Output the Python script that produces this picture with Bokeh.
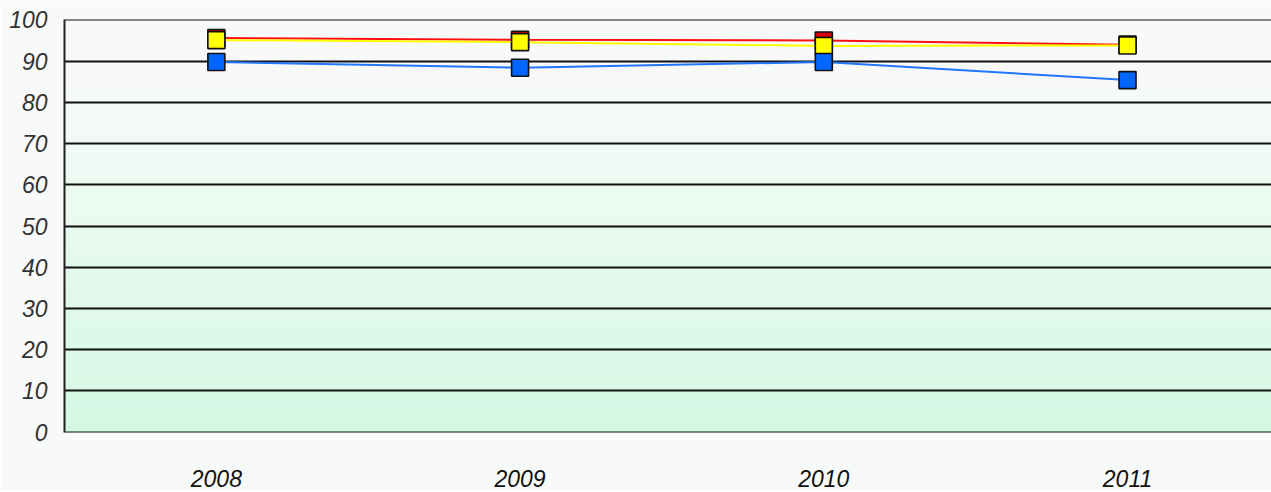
from bokeh.plotting import figure
from bokeh.models import FixedTicker, Range1d
from bokeh.embed import file_html
from bokeh.resources import INLINE

years = [2008, 2009, 2010, 2011]
year_labels = ["2008", "2009", "2010", "2011"]
red_vals = [95.6, 95.2, 95.0, 94.0]
yellow_vals = [95.1, 94.6, 93.7, 93.8]
blue_vals = [89.8, 88.4, 89.8, 85.4]
y_ticks = list(range(0, 101, 10))

BG = "#f8faf9"
p = figure(width=1271, height=490, output_backend="svg", toolbar_location=None,
           x_range=Range1d(2007.5, 2011.474), y_range=Range1d(-0.1, 100.1),
           min_border_left=64, min_border_right=0, min_border_top=19,
           min_border_bottom=58)
p.background_fill_color = BG
p.border_fill_color = BG
p.outline_line_color = None

# gradient background (style only)
top_rgb = (248, 250, 249)
bot_rgb = (210, 249, 226)
g_top = 86.0
n = 86
bottoms, tops, cols = [], [], []
for i in range(n):
    b = g_top * i / n
    t = g_top * (i + 1) / n
    f = (b + t) / 2 / g_top
    c = tuple(int(round(bot_rgb[k] + (top_rgb[k] - bot_rgb[k]) * f)) for k in range(3))
    bottoms.append(b)
    tops.append(t)
    cols.append("#%02x%02x%02x" % c)
bg = p.quad(left=2007.0, right=2012.0, bottom=bottoms, top=tops,
            fill_color=cols, line_color=None)
bg.level = "image"

# grid
p.xgrid.visible = False
p.ygrid.ticker = FixedTicker(ticks=y_ticks)
p.ygrid.grid_line_color = "#111111"
p.ygrid.grid_line_width = 2

# axes
p.yaxis.ticker = FixedTicker(ticks=y_ticks)
p.yaxis.axis_line_color = "#222222"
p.yaxis.axis_line_width = 2
p.yaxis.major_tick_line_color = None
p.yaxis.minor_tick_line_color = None
p.yaxis.major_label_text_font = "Liberation Sans"
p.yaxis.major_label_text_font_style = "italic"
p.yaxis.major_label_text_font_size = "23px"
p.yaxis.major_label_text_color = "#333333"
p.yaxis.major_label_standoff = 11

p.xaxis.ticker = FixedTicker(ticks=years)
p.xaxis.major_label_overrides = {y: s for y, s in zip(years, year_labels)}
p.xaxis.axis_line_color = None
p.xaxis.major_tick_line_color = None
p.xaxis.minor_tick_line_color = None
p.xaxis.major_label_text_font = "Liberation Sans"
p.xaxis.major_label_text_font_style = "italic"
p.xaxis.major_label_text_font_size = "23px"
p.xaxis.major_label_text_color = "#111111"
p.xaxis.major_label_standoff = 31

# series
def series(vals, color, mfill):
    p.line(years, vals, line_color=color, line_width=2)
    p.scatter(years, vals, marker="square", size=17, fill_color=mfill,
              line_color="#111111", line_width=1.6)

series(red_vals, "#ff1010", "#dd0000")
series(yellow_vals, "#ffff00", "#ffff00")
series(blue_vals, "#2277ff", "#0066ff")

open("out.html", "w").write(file_html(p, INLINE))
